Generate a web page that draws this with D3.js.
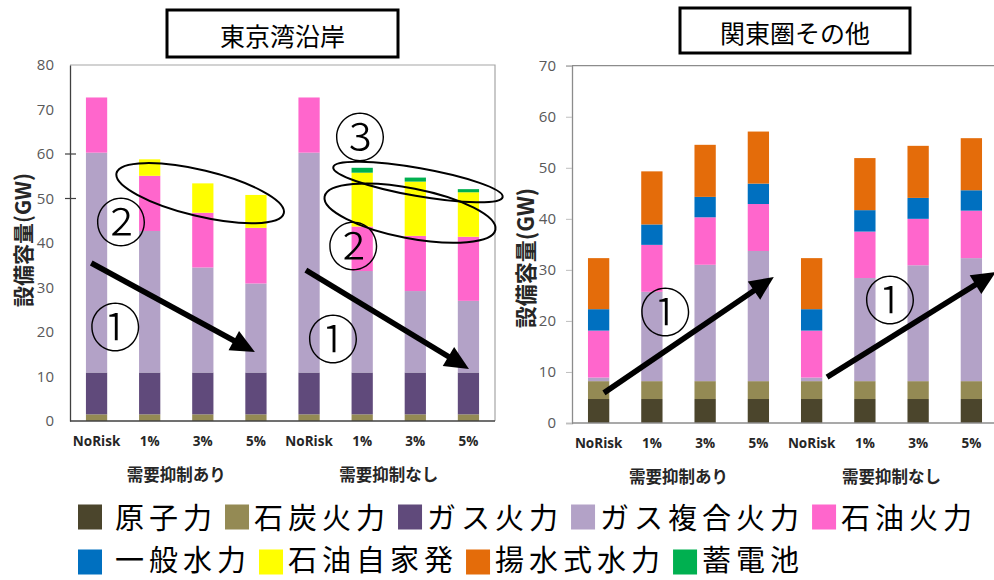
<!DOCTYPE html>
<html>
<head>
<meta charset="utf-8">
<script src="https://cdn.jsdelivr.net/npm/d3@7"></script>
<style>
  html, body { margin: 0; padding: 0; background: #fff; }
  svg { display: block; }
  .tick text { font-family: "Open Sans", "Noto Sans", sans-serif; }
</style>
</head>
<body>
<svg id="chart" width="994" height="580"></svg>
<script>
// Installed capacity (GW) by scenario, two regions
const categories = ["NoRisk", "1%", "3%", "5%", "NoRisk", "1%", "3%", "5%"];
const groupLabels = ["需要抑制あり", "需要抑制なし"];
const seriesNames = ["原子力", "石炭火力", "ガス火力", "ガス複合火力", "石油火力",
                     "一般水力", "石油自家発", "揚水式水力", "蓄電池"];
const seriesColors = ["#4B452C", "#948A54", "#604A7B", "#B3A2C7", "#FF66CC",
                      "#0070C0", "#FFFF00", "#E46C0A", "#00B050"];

// 東京湾沿岸
const bayNuclear  = [0, 0, 0, 0, 0, 0, 0, 0];
const bayCoal     = [1.5, 1.5, 1.5, 1.5, 1.5, 1.5, 1.5, 1.5];
const bayGas      = [9.4, 9.4, 9.4, 9.4, 9.4, 9.4, 9.4, 9.4];
const bayGasCC    = [49.4, 31.8, 23.6, 20.0, 49.4, 22.8, 18.3, 16.1];
const bayOil      = [12.4, 12.4, 12.3, 12.5, 12.4, 10.0, 12.4, 14.4];
const bayHydro    = [0, 0, 0, 0, 0, 0, 0, 0];
const bayOilSelf  = [0, 3.7, 6.6, 7.4, 0, 12.1, 12.2, 10.0];
const bayPumped   = [0, 0, 0, 0, 0, 0, 0, 0];
const bayBattery  = [0, 0, 0, 0, 0, 1.1, 0.9, 0.7];

// 関東圏その他
const restNuclear = [4.7, 4.7, 4.7, 4.7, 4.7, 4.7, 4.7, 4.7];
const restCoal    = [3.5, 3.5, 3.5, 3.5, 3.5, 3.5, 3.5, 3.5];
const restGas     = [0, 0, 0, 0, 0, 0, 0, 0];
const restGasCC   = [0.7, 17.5, 22.8, 25.5, 0.7, 20.2, 22.7, 24.1];
const restOil     = [9.2, 9.2, 9.3, 9.2, 9.2, 9.1, 9.1, 9.3];
const restHydro   = [4.2, 4.0, 4.0, 4.0, 4.2, 4.2, 4.1, 4.0];
const restOilSelf = [0, 0, 0, 0, 0, 0, 0, 0];
const restPumped  = [10.0, 10.4, 10.2, 10.2, 10.0, 10.2, 10.2, 10.2];
const restBattery = [0, 0, 0, 0, 0, 0, 0, 0];

const bayTicks  = [0, 10, 20, 30, 40, 50, 60, 70, 80];
const restTicks = [0, 10, 20, 30, 40, 50, 60, 70];
const yTitle = "設備容量(GW)";

const svg = d3.select("#chart");
const jp = "'Noto Sans CJK JP', sans-serif";

function drawPanel(cfg) {
  const g = svg.append("g");
  const x = d3.scaleBand().domain(d3.range(categories.length))
    .range([cfg.x0, cfg.x1]).paddingInner(0.6).paddingOuter(0.3);
  const y = d3.scaleLinear().domain([0, cfg.max]).range([cfg.yb, cfg.yt]);
  const xc = t => cfg.x0 + x.step() * (t + 0.5);

  // frame
  if (cfg.frame) {
    g.append("path")
      .attr("d", `M${cfg.x0},${cfg.yt}H${cfg.x1}V${cfg.yb}`)
      .attr("fill", "none").attr("stroke", "#a6a6a6").attr("stroke-width", 1.2);
  } else {
    g.append("line").attr("x1", cfg.x0).attr("x2", cfg.x1)
      .attr("y1", cfg.yt).attr("y2", cfg.yt)
      .attr("stroke", "#8c8c8c").attr("stroke-width", 1.2);
  }

  // stacked bars
  const rows = categories.map((c, i) => {
    const r = { i };
    cfg.series.forEach((s, k) => { r[k] = s[i]; });
    return r;
  });
  const stack = d3.stack().keys(d3.range(cfg.series.length))(rows);
  g.selectAll("g.layer").data(stack).join("g")
    .attr("fill", (d, k) => seriesColors[k])
    .selectAll("rect").data(d => d.filter(p => p[1] - p[0] > 0)).join("rect")
    .attr("x", p => x(p.data.i))
    .attr("width", x.bandwidth())
    .attr("y", p => y(p[1]))
    .attr("height", p => y(p[0]) - y(p[1]));

  // y axis
  const ya = g.append("g").attr("transform", `translate(${cfg.x0},0)`)
    .call(d3.axisLeft(y).tickValues(cfg.ticks).tickSize(cfg.tickLen).tickPadding(cfg.tickPad));
  ya.select(".domain").attr("stroke", cfg.axisColor).attr("stroke-width", 1.3);
  ya.selectAll(".tick line").attr("stroke", cfg.tickColor);
  ya.selectAll(".tick text").attr("font-size", 15).attr("fill", "#595959");
  if (cfg.markTicks) {
    g.selectAll("line.mark").data(cfg.markTicks).join("line")
      .attr("x1", cfg.x0 - 5).attr("x2", cfg.x0 + 6)
      .attr("y1", d => y(d)).attr("y2", d => y(d))
      .attr("stroke", "#404040").attr("stroke-width", 1.2);
  }

  // x axis
  g.append("line").attr("x1", cfg.x0).attr("x2", cfg.x1)
    .attr("y1", cfg.yb).attr("y2", cfg.yb)
    .attr("stroke", cfg.axisColor).attr("stroke-width", 1.3);
  g.selectAll("text.cat").data(categories).join("text")
    .attr("x", (d, i) => x(i) + x.bandwidth() / 2)
    .attr("y", cfg.yb + 25)
    .attr("text-anchor", "middle")
    .attr("font-family", "'Open Sans', sans-serif")
    .attr("font-weight", "bold").attr("font-size", 13.5).attr("fill", "#262626")
    .text(d => d);
  g.selectAll("text.grp").data(groupLabels).join("text")
    .attr("x", (d, j) => xc(j * 4 + 1.5))
    .attr("y", cfg.yb + 60)
    .attr("text-anchor", "middle")
    .attr("font-family", jp).attr("font-weight", "bold")
    .attr("font-size", 16.5).attr("fill", "#262626")
    .text(d => d);

  // y title
  g.append("text")
    .attr("transform", `translate(${cfg.titleX},${cfg.titleY}) rotate(-90)`)
    .attr("text-anchor", "middle").attr("dominant-baseline", "central")
    .attr("font-family", jp).attr("font-weight", "bold")
    .attr("font-size", cfg.titleSize).attr("fill", "#262626")
    .text(yTitle);

  // panel heading
  g.append("rect")
    .attr("x", cfg.box[0]).attr("y", cfg.box[1])
    .attr("width", cfg.box[2]).attr("height", cfg.box[3])
    .attr("fill", "#fff").attr("stroke", "#000").attr("stroke-width", 3);
  g.append("text")
    .attr("x", cfg.box[0] + cfg.box[2] / 2).attr("y", cfg.box[1] + cfg.box[3] / 2 + 1)
    .attr("text-anchor", "middle").attr("dominant-baseline", "central")
    .attr("font-family", jp).attr("font-size", 25).attr("fill", "#000")
    .text(cfg.heading);

  // annotations, positioned in category / value units
  (cfg.ellipses || []).forEach(e => {
    g.append("ellipse")
      .attr("transform", `translate(${xc(e.t)},${y(e.v)}) rotate(${e.rot})`)
      .attr("rx", e.rx).attr("ry", e.ry)
      .attr("fill", "none").attr("stroke", "#000").attr("stroke-width", 2);
  });
  (cfg.arrows || []).forEach(a => {
    const x1 = xc(a.t0), y1 = y(a.v0), x2 = xc(a.t1), y2 = y(a.v1);
    const ang = Math.atan2(y2 - y1, x2 - x1);
    const L = 24, W = 11;
    const bx = x2 - L * Math.cos(ang), by = y2 - L * Math.sin(ang);
    g.append("line").attr("x1", x1).attr("y1", y1)
      .attr("x2", bx + 2 * Math.cos(ang)).attr("y2", by + 2 * Math.sin(ang))
      .attr("stroke", "#000").attr("stroke-width", 5.5);
    g.append("path")
      .attr("d", `M${x2},${y2}L${bx - W * Math.sin(ang)},${by + W * Math.cos(ang)}` +
                 `L${bx + W * Math.sin(ang)},${by - W * Math.cos(ang)}Z`)
      .attr("fill", "#000");
  });
  (cfg.marks || []).forEach(m => {
    g.append("text")
      .attr("x", xc(m.t)).attr("y", y(m.v))
      .attr("text-anchor", "middle").attr("dominant-baseline", "central")
      .attr("font-family", jp).attr("font-weight", 300).attr("font-size", 52)
      .attr("fill", "#000")
      .text(m.s);
  });
}

drawPanel({
  heading: "東京湾沿岸", box: [167, 10, 231, 47],
  x0: 70, x1: 495, yt: 65, yb: 421, max: 80, ticks: bayTicks,
  frame: true, axisColor: "#404040", tickColor: "none", tickLen: 0, tickPad: 16,
  markTicks: [50, 60],
  titleX: 22, titleY: 240, titleSize: 21,
  series: [bayNuclear, bayCoal, bayGas, bayGasCC, bayOil, bayHydro, bayOilSelf, bayPumped, bayBattery],
  ellipses: [
    { t: 1.95, v: 51.2, rx: 86, ry: 23, rot: 13.5 },
    { t: 6.05, v: 53.7, rx: 86, ry: 14, rot: 10 },
    { t: 5.9,  v: 46.7, rx: 87, ry: 25, rot: 11 }
  ],
  arrows: [
    { t0: -0.1, v0: 35.5, t1: 2.98, v1: 15.5 },
    { t0: 3.94, v0: 33.9, t1: 7.01, v1: 11.7 }
  ],
  marks: [
    { s: "②", t: 0.46, v: 45.2 }, { s: "①", t: 0.35, v: 21.6 },
    { s: "③", t: 4.96, v: 64.3 }, { s: "②", t: 4.83, v: 40.0 },
    { s: "①", t: 4.45, v: 18.9 }
  ]
});

drawPanel({
  heading: "関東圏その他", box: [680, 8, 230, 45],
  x0: 572, x1: 998, yt: 65.7, yb: 423, max: 70, ticks: restTicks,
  frame: false, axisColor: "#8c8c8c", tickColor: "#bfbfbf", tickLen: 6, tickPad: 10,
  titleX: 524, titleY: 258, titleSize: 22,
  series: [restNuclear, restCoal, restGas, restGasCC, restOil, restHydro, restOilSelf, restPumped, restBattery],
  arrows: [
    { t0: 0.10, v0: 5.9, t1: 3.29, v1: 28.6 },
    { t0: 4.29, v0: 9.0, t1: 7.46, v1: 29.6 }
  ],
  marks: [
    { s: "①", t: 1.25, v: 22.2 }, { s: "①", t: 5.47, v: 24.5 }
  ]
});

// legend
const legendRows = [[0, 1, 2, 3, 4], [5, 6, 7, 8]];
const rowY = [516, 558];
const swatchY = [517, 562];
legendRows.forEach((row, r) => {
  let cx = 78;
  row.forEach((k, j) => {
    svg.append("rect").attr("x", cx).attr("y", swatchY[r] - 12.5)
      .attr("width", 24).attr("height", 25).attr("fill", seriesColors[k]);
    cx += 24 + (j === 0 ? 13 : 5);
    const t = svg.append("text").attr("x", cx).attr("y", rowY[r])
      .attr("dominant-baseline", "central")
      .attr("font-family", jp).attr("font-size", 29).attr("letter-spacing", 5)
      .attr("fill", "#000")
      .text(seriesNames[k]);
    cx += t.node().getComputedTextLength() + 8;
  });
});
</script>
</body>
</html>
